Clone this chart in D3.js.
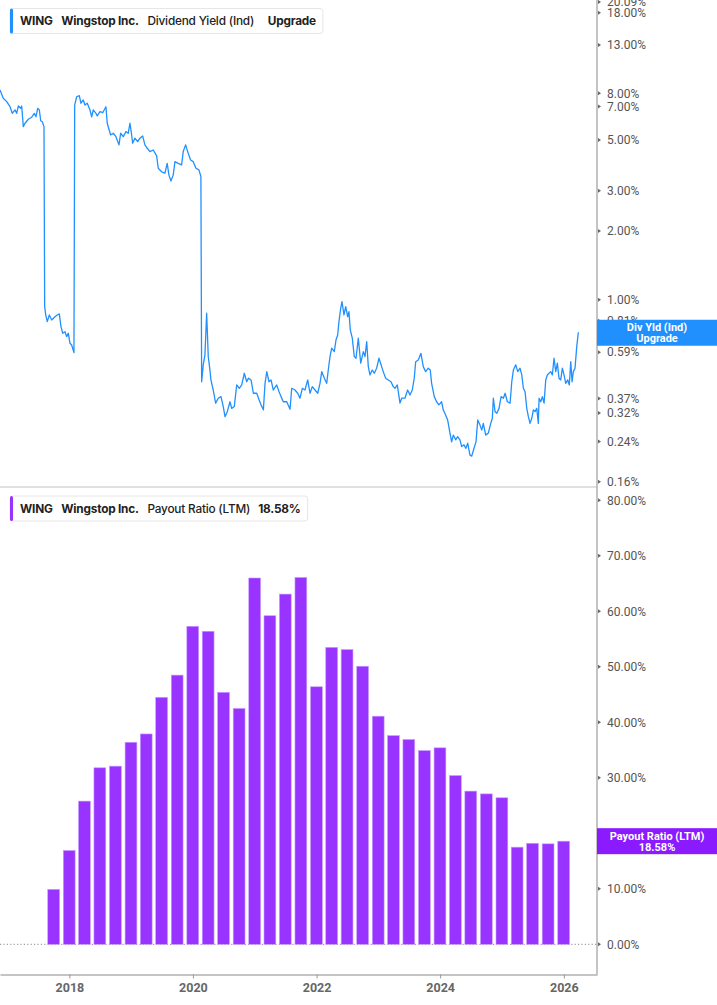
<!DOCTYPE html>
<html>
<head>
<meta charset="utf-8">
<script src="https://cdn.jsdelivr.net/npm/d3@7/dist/d3.min.js"></script>
<style>
  html, body { margin: 0; padding: 0; background: #fff; }
  svg { display: block; }
  .tick-label { font-family: Roboto, Arial, sans-serif; font-size: 12px; fill: #555; }
</style>
</head>
<body>
<svg id="chart" width="717" height="1005"></svg>
<script>
// ---------------- DATA ----------------
// Dividend Yield (Ind), % — dates as decimal years
const yieldYears = [
  2016.877,2016.930,2016.985,2017.039,2017.076,2017.120,2017.147,2017.173,2017.212,2017.228,
  2017.254,2017.282,2017.335,2017.390,2017.432,2017.460,2017.487,2017.513,2017.536,2017.561,
  2017.589,2017.600,2017.617,2017.642,2017.675,2017.714,2017.767,2017.804,2017.837,2017.864,
  2017.892,2017.929,2017.956,2017.982,2018.010,2018.037,2018.074,2018.086,2018.118,2018.160,
  2018.188,2018.225,2018.252,2018.290,2018.333,2018.361,2018.387,2018.430,2018.451,2018.495,
  2018.539,2018.592,2018.613,2018.668,2018.710,2018.754,2018.803,2018.830,2018.872,2018.916,
  2018.953,2018.981,2019.008,2019.024,2019.061,2019.105,2019.142,2019.186,2019.223,2019.261,
  2019.304,2019.358,2019.413,2019.439,2019.494,2019.547,2019.584,2019.612,2019.644,2019.681,
  2019.709,2019.762,2019.817,2019.843,2019.882,2019.924,2019.963,2020.005,2020.049,2020.097,
  2020.129,2020.141,2020.167,2020.194,2020.222,2020.238,2020.248,2020.275,2020.291,2020.328,
  2020.367,2020.409,2020.453,2020.490,2020.518,2020.555,2020.599,2020.626,2020.668,2020.707,
  2020.749,2020.788,2020.830,2020.869,2020.895,2020.939,2020.976,2021.031,2021.068,2021.100,
  2021.138,2021.165,2021.193,2021.230,2021.262,2021.299,2021.354,2021.392,2021.424,2021.461,
  2021.516,2021.570,2021.597,2021.650,2021.694,2021.731,2021.769,2021.812,2021.856,2021.893,
  2021.930,2021.974,2022.018,2022.055,2022.083,2022.125,2022.163,2022.189,2022.217,2022.244,
  2022.286,2022.314,2022.341,2022.362,2022.390,2022.411,2022.443,2022.471,2022.503,2022.524,
  2022.545,2022.578,2022.610,2022.638,2022.675,2022.714,2022.756,2022.783,2022.811,2022.837,
  2022.864,2022.901,2022.934,2022.972,2023.010,2023.053,2023.079,2023.118,2023.160,2023.204,
  2023.241,2023.269,2023.306,2023.350,2023.377,2023.430,2023.474,2023.511,2023.549,2023.581,
  2023.604,2023.646,2023.689,2023.727,2023.765,2023.807,2023.840,2023.862,2023.905,2023.943,
  2023.981,2024.024,2024.050,2024.089,2024.121,2024.159,2024.186,2024.212,2024.251,2024.283,
  2024.320,2024.348,2024.385,2024.417,2024.445,2024.482,2024.510,2024.547,2024.579,2024.607,
  2024.644,2024.672,2024.697,2024.736,2024.778,2024.817,2024.843,2024.859,2024.887,2024.914,
  2024.951,2024.984,2025.021,2025.049,2025.086,2025.130,2025.157,2025.183,2025.222,2025.254,
  2025.291,2025.319,2025.345,2025.372,2025.400,2025.426,2025.453,2025.481,2025.507,2025.534,
  2025.562,2025.587,2025.599,2025.626,2025.652,2025.680,2025.707,2025.733,2025.761,2025.788,
  2025.814,2025.841,2025.869,2025.895,2025.922,2025.950,2025.976,2026.003,2026.031,2026.063,
  2026.089,2026.112,2026.133,2026.154,2026.181,2026.209,2026.235
];
const yieldValues = [
  8.27,7.61,7.36,6.99,6.54,6.77,6.54,7.04,6.88,7.04,
  5.72,5.92,6.16,6.29,6.54,6.32,6.88,6.77,6.07,6.01,
  5.72,0.933,0.858,0.802,0.858,0.816,0.843,0.858,0.867,0.763,
  0.714,0.725,0.690,0.714,0.645,0.634,0.587,7.11,7.73,7.81,
  7.24,7.48,7.11,7.24,6.77,6.32,6.77,6.54,6.37,6.65,
  6.58,6.99,5.92,5.26,5.35,5.17,4.76,5.35,5.17,5.44,
  5.35,5.92,5.26,4.84,5.09,4.92,5.09,5.21,4.76,4.60,
  4.45,4.52,4.26,3.76,3.63,3.58,3.95,3.51,3.31,3.51,
  4.02,3.95,3.89,4.45,4.76,4.37,4.09,4.02,3.76,3.70,
  3.46,0.438,0.52,0.573,0.873,0.667,0.564,0.493,0.446,0.403,
  0.353,0.371,0.377,0.341,0.308,0.324,0.358,0.335,0.341,0.424,
  0.410,0.424,0.477,0.438,0.454,0.446,0.390,0.390,0.365,0.347,
  0.330,0.431,0.485,0.438,0.446,0.403,0.424,0.396,0.377,0.358,
  0.358,0.332,0.410,0.403,0.390,0.371,0.410,0.403,0.446,0.390,
  0.417,0.403,0.390,0.431,0.485,0.454,0.431,0.493,0.564,0.614,
  0.593,0.667,0.701,0.802,0.918,0.981,0.858,0.933,0.843,0.887,
  0.738,0.679,0.564,0.555,0.679,0.528,0.593,0.564,0.656,0.510,
  0.469,0.493,0.477,0.502,0.555,0.510,0.485,0.454,0.446,0.438,
  0.417,0.410,0.424,0.353,0.371,0.371,0.403,0.383,0.403,0.454,
  0.536,0.545,0.583,0.510,0.485,0.502,0.493,0.431,0.377,0.358,
  0.347,0.358,0.330,0.313,0.298,0.261,0.239,0.256,0.244,0.252,
  0.244,0.228,0.232,0.224,0.236,0.209,0.207,0.224,0.239,0.298,
  0.283,0.269,0.288,0.256,0.261,0.288,0.303,0.371,0.324,0.319,
  0.335,0.377,0.371,0.390,0.358,0.353,0.438,0.493,0.519,0.485,
  0.502,0.469,0.410,0.396,0.335,0.308,0.288,0.303,0.330,0.324,
  0.335,0.288,0.371,0.358,0.377,0.353,0.446,0.469,0.477,0.485,
  0.469,0.555,0.485,0.528,0.454,0.446,0.502,0.469,0.431,0.446,
  0.424,0.536,0.438,0.485,0.502,0.624,0.721
];
const yieldTicks = [20.09, 18, 13, 8, 7, 5, 3, 2, 1, 0.81, 0.59, 0.37, 0.32, 0.24, 0.16];

// Payout Ratio (LTM), % — quarterly
const payoutDates = [
  "2017-09-30","2017-12-31",
  "2018-03-31","2018-06-30","2018-09-30","2018-12-31",
  "2019-03-31","2019-06-30","2019-09-30","2019-12-31",
  "2020-03-31","2020-06-30","2020-09-30","2020-12-31",
  "2021-03-31","2021-06-30","2021-09-30","2021-12-31",
  "2022-03-31","2022-06-30","2022-09-30","2022-12-31",
  "2023-03-31","2023-06-30","2023-09-30","2023-12-31",
  "2024-03-31","2024-06-30","2024-09-30","2024-12-31",
  "2025-03-31","2025-06-30","2025-09-30","2025-12-31"
];
const payoutValues = [
  9.9,16.9,
  25.8,31.8,32.1,36.4,
  37.9,44.5,48.5,57.3,
  56.4,45.4,42.5,66.0,
  59.2,63.1,66.1,46.4,
  53.5,53.1,50.1,41.1,
  37.6,36.9,34.9,35.4,
  30.4,27.6,27.1,26.4,
  17.5,18.2,18.1,18.58
];
const payoutTicks = [0, 10, 20, 30, 40, 50, 60, 70, 80];
const xTickYears = [2018, 2020, 2022, 2024, 2026];

const topLegend = [
  {t: "WING", w: 700}, {t: "Wingstop Inc.", w: 700},
  {t: "Dividend Yield (Ind)", w: 500}, {t: "Upgrade", w: 700}
];
const bottomLegend = [
  {t: "WING", w: 700}, {t: "Wingstop Inc.", w: 700},
  {t: "Payout Ratio (LTM)", w: 500}, {t: "18.58%", w: 700}
];

// ---------------- LAYOUT ----------------
const W = 717;
const plotRight = 597;
const topPanel = {y0: 0, y1: 487};
const botAxisY = 974.5;
const blue = "#2190ff";
const purple = "#9933ff";
const purpleBox = "#8c1aff";

const svg = d3.select("#chart");

function decToDate(y) {
  const Y = Math.floor(y);
  const s = Date.UTC(Y, 0, 1), e = Date.UTC(Y + 1, 0, 1);
  return new Date(s + (y - Y) * (e - s));
}

const x = d3.scaleUtc()
  .domain([decToDate(2016.877), decToDate(2026.537)])
  .range([0, plotRight]);

const yTop = d3.scaleLog()
  .domain([0.1517, 20.48])
  .range([topPanel.y1, topPanel.y0]);

const yBot = d3.scaleLinear()
  .domain([0, 80])
  .range([944.3, 500.3]);

// ---------------- TOP PANEL ----------------
svg.append("clipPath").attr("id", "clipTop")
  .append("rect").attr("x", 0).attr("y", 0).attr("width", plotRight).attr("height", topPanel.y1);

const lineData = yieldYears.map((yr, i) => ({d: decToDate(yr), v: yieldValues[i]}));
const line = d3.line().x(p => x(p.d)).y(p => yTop(p.v));
svg.append("path")
  .datum(lineData)
  .attr("clip-path", "url(#clipTop)")
  .attr("fill", "none")
  .attr("stroke", blue)
  .attr("stroke-width", 1.3)
  .attr("stroke-linejoin", "round")
  .attr("d", line);

// divider
svg.append("line")
  .attr("x1", 0).attr("x2", plotRight)
  .attr("y1", topPanel.y1).attr("y2", topPanel.y1)
  .attr("stroke", "#e0e0e0").attr("stroke-width", 2);

// ---------------- BOTTOM PANEL ----------------
svg.append("line")
  .attr("x1", 0).attr("x2", plotRight)
  .attr("y1", yBot(0)).attr("y2", yBot(0))
  .attr("stroke", "#888").attr("stroke-width", 1)
  .attr("stroke-dasharray", "1.2,2.2");

const barW = 11.8;
const barData = payoutDates.map((s, i) => ({d: new Date(s + "T00:00:00Z"), v: payoutValues[i]}));
svg.append("g").selectAll("rect")
  .data(barData)
  .join("rect")
  .attr("x", p => x(p.d) - barW / 2)
  .attr("width", barW)
  .attr("y", p => yBot(p.v))
  .attr("height", p => yBot(0) - yBot(p.v))
  .attr("fill", purple)
  .attr("stroke", "#c79bff")
  .attr("stroke-width", 0.6);

// ---------------- AXES ----------------
function tickTriangle(g, yy) {
  g.append("path")
    .attr("d", `M${plotRight + 1},${yy - 2}L${plotRight + 4},${yy}L${plotRight + 1},${yy + 2}Z`)
    .attr("fill", "#666");
}

const topAxisG = svg.append("g");
yieldTicks.forEach(v => {
  const yy = yTop(v);
  tickTriangle(topAxisG, yy);
  topAxisG.append("text")
    .attr("class", "tick-label")
    .attr("x", 607).attr("y", yy)
    .attr("dy", "0.35em")
    .text(d3.format(".2f")(v) + "%");
});

const botAxisG = svg.append("g");
payoutTicks.forEach(v => {
  const yy = yBot(v);
  tickTriangle(botAxisG, yy);
  botAxisG.append("text")
    .attr("class", "tick-label")
    .attr("x", 607).attr("y", yy)
    .attr("dy", "0.35em")
    .text(d3.format(".2f")(v) + "%");
});

svg.append("line")
  .attr("x1", plotRight).attr("x2", plotRight)
  .attr("y1", 0).attr("y2", botAxisY)
  .attr("stroke", "#b0b0b0").attr("stroke-width", 1.5);

const xAxis = d3.axisBottom(x)
  .tickValues(xTickYears.map(yv => new Date(Date.UTC(yv, 0, 1))))
  .tickFormat(d3.utcFormat("%Y"))
  .tickSize(4)
  .tickPadding(5)
  .tickSizeOuter(0);
const xg = svg.append("g")
  .attr("transform", `translate(0,${botAxisY})`)
  .call(xAxis);
xg.select(".domain").attr("stroke", "#b0b0b0").attr("stroke-width", 1.5);
xg.selectAll(".tick line").attr("stroke", "#999");
xg.selectAll(".tick text")
  .attr("font-family", "Roboto, Arial, sans-serif")
  .attr("font-size", 12.5)
  .attr("font-weight", 700)
  .attr("fill", "#666");

// ---------------- VALUE BOXES ----------------
function valueBox(yCenter, color, lines) {
  const h = 26;
  const g = svg.append("g");
  g.append("rect")
    .attr("x", plotRight).attr("y", yCenter - h / 2)
    .attr("width", W - plotRight).attr("height", h)
    .attr("fill", color);
  lines.forEach((t, i) => {
    g.append("text")
      .attr("x", (plotRight + W) / 2)
      .attr("y", yCenter - 5.5 + i * 11)
      .attr("dy", "0.35em")
      .attr("text-anchor", "middle")
      .attr("font-family", "Roboto, Arial, sans-serif")
      .attr("font-size", 11)
      .attr("font-weight", 700)
      .attr("fill", "#fff")
      .text(t);
  });
}
valueBox(yTop(yieldValues[yieldValues.length - 1]) + 0.5, blue, ["Div Yld (Ind)", "Upgrade"]);
valueBox(yBot(payoutValues[payoutValues.length - 1]), purpleBox, ["Payout Ratio (LTM)", "18.58%"]);

// ---------------- LEGENDS ----------------
function legend(yTopBox, color, items, gaps) {
  const g = svg.append("g");
  const box = g.append("rect")
    .attr("x", 10).attr("y", yTopBox)
    .attr("height", 25).attr("rx", 3)
    .attr("fill", "#fff").attr("stroke", "#e6e6e6").attr("stroke-width", 1);
  g.append("rect")
    .attr("x", 10).attr("y", yTopBox)
    .attr("width", 3).attr("height", 25).attr("rx", 1.5)
    .attr("fill", color);
  let cx = 20;
  items.forEach((it, i) => {
    const t = g.append("text")
      .attr("x", cx).attr("y", yTopBox + 16.8)
      .attr("font-family", "Inter, Roboto, Arial, sans-serif")
      .attr("font-size", 11.8)
      .attr("letter-spacing", "-0.2px")
      .attr("font-weight", it.w)
      .attr("fill", "#222")
      .text(it.t);
    cx += t.node().getComputedTextLength() + (gaps[i] || 0);
  });
  box.attr("width", cx + 7 - 10);
}
legend(8.5, blue, topLegend, [8.7, 8.7, 13.7, 0]);
legend(496, purple, bottomLegend, [8.7, 8.7, 8, 0]);
</script>
</body>
</html>
